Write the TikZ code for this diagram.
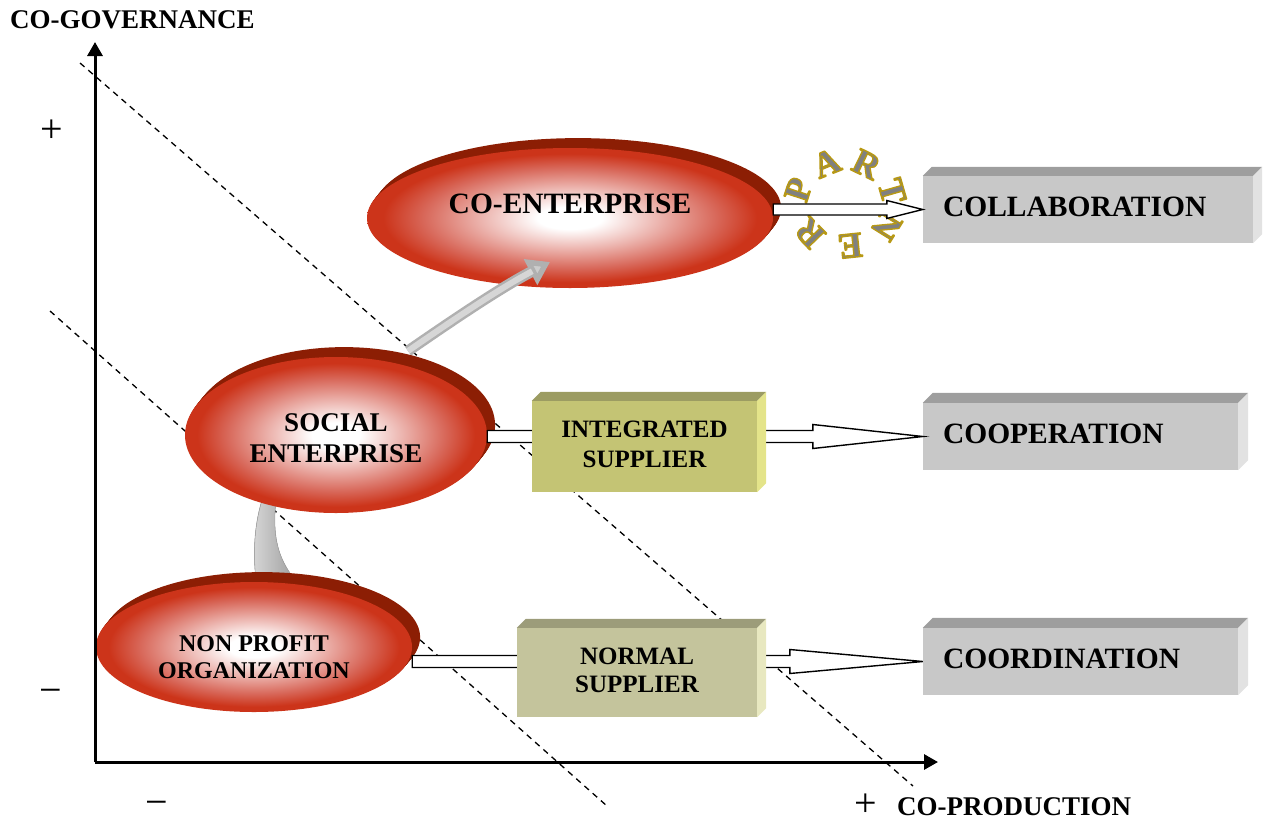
\documentclass[tikz,border=0pt]{standalone}
\usepackage{fontspec}
\setmainfont{Liberation Serif}
\usetikzlibrary{arrows.meta,calc,shapes.geometric}

\definecolor{edgered}{RGB}{204,52,26}
\definecolor{midred}{RGB}{216,104,90}
\definecolor{pinkmid}{RGB}{236,180,174}
\definecolor{rimred}{RGB}{140,30,4}
\definecolor{greyfront}{RGB}{200,200,200}
\definecolor{greytop}{RGB}{158,158,158}
\definecolor{greyside}{RGB}{226,226,226}
\definecolor{olivefront}{RGB}{196,196,116}
\definecolor{olivetop}{RGB}{156,156,98}
\definecolor{oliveside}{RGB}{228,228,138}
\definecolor{khakifront}{RGB}{196,196,156}
\definecolor{khakitop}{RGB}{156,156,122}
\definecolor{khakiside}{RGB}{232,232,192}
\definecolor{shaftlight}{RGB}{214,214,214}
\definecolor{shaftdark}{RGB}{150,150,150}
\definecolor{ringgrey}{RGB}{128,128,128}

% white core fading to red at the rim of each oval
\pgfdeclareradialshading{ellglow}{\pgfpoint{0bp}{0bp}}{%
  color(0bp)=(white); color(4bp)=(white); color(11bp)=(pinkmid);
  color(18bp)=(midred); color(23bp)=(edgered); color(50bp)=(edgered)}

% hollow block arrow from the x of #1 to the tip #2
% #3 shaft half-width, #4 head half-width, #5 head length
\newcommand\BlockArrow[5]{%
  \path[barrow] let \p1=(#1), \p2=(#2) in
    (\x1,{\y2+#3}) -- ({\x2-#5},{\y2+#3}) -- ({\x2-#5},{\y2+#4}) -- (\x2,\y2)
    -- ({\x2-#5},{\y2-#4}) -- ({\x2-#5},{\y2-#3}) -- (\x1,{\y2-#3}) -- cycle;}

% top and right faces of a raised box; #2 depth, #3 top colour, #4 side colour
\newcommand\BoxFaces[4]{%
  \fill[#3] (#1.north west) -- ++(#2,-#2) -- ([shift={(#2,-#2)}]#1.north east)
    -- (#1.north east) -- cycle;
  \fill[#4] (#1.north east) -- ++(#2,-#2) -- ([shift={(#2,-#2)}]#1.south east)
    -- (#1.south east) -- cycle;}

% extruded dark rim behind an oval centred at #1 with radii #2, #3
\newcommand\OvalRim[3]{%
  \foreach \k in {1,...,9}
    \fill[rimred] ([shift={(0.9*\k,-1.1*\k)}]#1) ellipse [x radius=#2, y radius=#3];}

% grey letter filled and stroked with a golden outline (text render mode 2)
\newcommand\RingGlyph[1]{\textcolor{ringgrey}{%
  \special{pdf:literal direct 0.72 0.60 0.08 RG 1.4 w 1 j 2 Tr}#1%
  \special{pdf:literal direct 0 Tr}}}

\begin{document}
\begin{tikzpicture}[x=1pt,y=-1pt,
  axis/.style={line width=3pt,-{Triangle[length=14pt,width=15pt]}},
  guide/.style={line width=1.3pt,dash pattern=on 6pt off 5pt},
  oval/.style={ellipse,shading=ellglow,inner sep=0pt},
  ovaltext/.style n args={2}{align=center,font=\bfseries\fontsize{#1}{#2}\selectfont},
  barrow/.style={draw=black,fill=white,line width=1.4pt,line join=miter},
  gbox/.style={rectangle,fill=greyfront,inner xsep=20pt,inner ysep=0pt,align=left,
    minimum height=67pt,font=\bfseries\fontsize{29.5}{33}\selectfont},
  sbox/.style={rectangle,inner sep=0pt,align=center},
  sign/.style={font=\fontsize{40}{40}\selectfont,inner sep=0pt},
  axlabel/.style={font=\bfseries\fontsize{27}{30}\selectfont,inner sep=2pt},
  ringletter/.style={font=\bfseries\fontsize{36}{36}\selectfont,inner sep=0pt},
]
\useasboundingbox (0,0) rectangle (1263,825);

% ---- guide lines -------------------------------------------------------
\coordinate (g1a) at (80,63);   \coordinate (g1b) at (913,786);
\coordinate (g2a) at (50,311);  \coordinate (g2b) at (607,806);
\draw[guide] (g1a) -- (g1b);
\draw[guide] (g2a) -- (g2b);

% ---- ovals ---------------------------------------------------------------
\coordinate (cec) at (570,218);
\OvalRim{cec}{203pt}{70pt}
\node[oval,minimum width=406pt,minimum height=140pt] (coent) at (cec) {};
\node[ovaltext={29.5}{33}] (coenttxt) at ([yshift=14pt]coent.center) {CO-ENTERPRISE};

% grey arrows between the ovals
\fill[left color=shaftlight,right color=shaftdark,draw=gray!70,line width=0.6pt]
  (262,500) .. controls (253,530) and (253,560) .. (257,588)
  -- (302,588) .. controls (282,566) and (271,545) .. (276,500) -- cycle;

\coordinate (up1) at ([shift={(72,-84)}]336,435);
\coordinate (up2) at ([shift={(-20,44)}]coent.center);
\draw[line width=11pt,draw=gray!62,-{Triangle[length=22pt,width=28pt,fill=gray!40]}]
  (up1) .. controls (450,322) and (500,288) .. (up2);
\draw[line width=6pt,draw=shaftlight,shorten >=20pt]
  (up1) .. controls (450,322) and (500,288) .. (up2);

\coordinate (sec) at (336,435);
\OvalRim{sec}{151pt}{78pt}
\node[oval,minimum width=302pt,minimum height=156pt] (social) at (sec) {};
\node[ovaltext={27}{31}] (socialtxt) at ([yshift=-3pt]social.center) {SOCIAL\\ENTERPRISE};

\coordinate (npc) at (254,647);
\OvalRim{npc}{158pt}{65pt}
\node[oval,minimum width=316pt,minimum height=130pt] (npo) at (npc) {};
\node[ovaltext={24}{27}] (npotxt) at ([yshift=-10pt]npo.center) {NON PROFIT\\ORGANIZATION};

% ---- right-hand boxes ----------------------------------------------------
\node[gbox,text width=290pt] (collab) at (1088,209.5) {\raisebox{5pt}{COLLABORATION}};
\BoxFaces{collab}{9}{greytop}{greyside}
\node[gbox,text width=275pt] (coop) at (1080.5,436.5) {\raisebox{5pt}{COOPERATION}};
\BoxFaces{coop}{10}{greytop}{greyside}
\node[gbox,text width=275pt] (coord) at (1080.5,661.5) {\raisebox{5pt}{COORDINATION}};
\BoxFaces{coord}{10}{greytop}{greyside}

% ---- partner ring: letters round an ellipse ---------------------------------
\foreach \a/\l [count=\i] in {162/P,112/A,64/R,16/T,-32/N,-84/E,-136/R}{
  \node[ringletter,rotate=\a-90] (ring\i)
    at ({845+49*cos(\a)},{203-43*sin(\a)}) {\RingGlyph{\l}};
}

% ---- hollow arrows ---------------------------------------------------------
\BlockArrow{npo.east}{coord.west}{6pt}{12pt}{133pt}
\BlockArrow{social.east}{coop.west}{6pt}{12pt}{110pt}
\BlockArrow{coent.east}{collab.west}{5.5pt}{9pt}{36pt}

% ---- supplier boxes ----------------------------------------------------------
\node[sbox,fill=olivefront,minimum width=225pt,minimum height=91pt,
  font=\bfseries\fontsize{25}{30}\selectfont] (integ) at (644.5,446.5)
  {\raisebox{6pt}{\begin{tabular}{@{}c@{}}INTEGRATED\\SUPPLIER\end{tabular}}};
\BoxFaces{integ}{9}{olivetop}{oliveside}
\node[sbox,fill=khakifront,minimum width=240pt,minimum height=89pt,
  font=\bfseries\fontsize{25}{28}\selectfont] (normal) at (637,672.5)
  {\raisebox{5pt}{\begin{tabular}{@{}c@{}}NORMAL\\SUPPLIER\end{tabular}}};
\BoxFaces{normal}{9}{khakitop}{khakiside}

% ---- axes ------------------------------------------------------------------
\coordinate (origin) at (95,762);
\coordinate (ytip) at (95,42);
\coordinate (xtip) at (938,762);
\draw[axis] (origin) -- (ytip);
\draw[axis] (origin) -- (xtip);

\node[axlabel,anchor=west] (ylab) at (8,20) {CO-GOVERNANCE};
\node[axlabel,anchor=west] (xlab) at (895,807) {CO-PRODUCTION};
\node[sign] (yplus) at (52,131) {+};
\node[sign] (yminus) at (51,696) {−};
\node[sign] (xminus) at (157,808) {−};
\node[sign] (xplus) at (866,805) {+};
\end{tikzpicture}
\end{document}
